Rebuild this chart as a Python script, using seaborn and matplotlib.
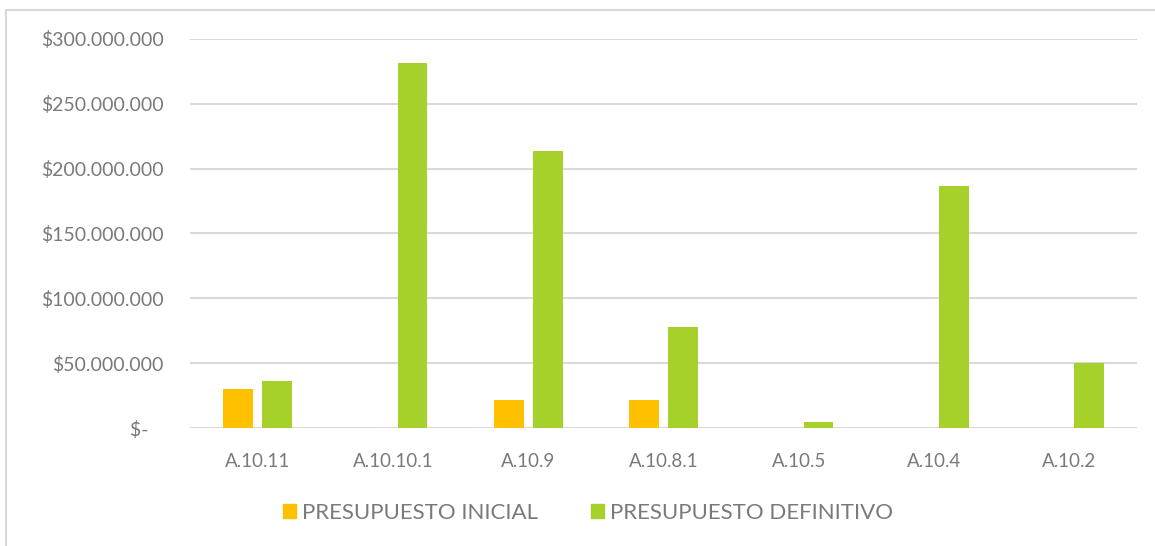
import pandas as pd
import seaborn as sns
import matplotlib.pyplot as plt
from matplotlib.patches import Rectangle
from matplotlib.ticker import FuncFormatter

# Data
categorias = ['A.10.11', 'A.10.10.1', 'A.10.9', 'A.10.8.1', 'A.10.5', 'A.10.4', 'A.10.2']
presupuesto_inicial = [30000000, 0, 21500000, 21500000, 0, 0, 0]
presupuesto_definitivo = [36500000, 281500000, 213500000, 78000000, 4500000, 186500000, 49800000]
series = ['PRESUPUESTO INICIAL', 'PRESUPUESTO DEFINITIVO']
colores = ['#FFC000', '#A5D12A']

df = pd.DataFrame({
    'categoria': categorias * 2,
    'serie': [series[0]] * len(categorias) + [series[1]] * len(categorias),
    'valor': presupuesto_inicial + presupuesto_definitivo,
})

sns.set_theme(style='white')
plt.rcParams['font.family'] = ['Lato', 'DejaVu Sans']
texto = '#7a7a7a'

fig = plt.figure(figsize=(11.55, 5.46), dpi=100)
ax = fig.add_axes([0.1645, 0.2161, 0.82, 0.7125])

sns.barplot(data=df, x='categoria', y='valor', hue='serie', hue_order=series,
            palette=colores, width=0.58, gap=0.24, saturation=1,
            edgecolor='none', ax=ax, legend=False)

ax.set_ylim(0, 300000000)
ax.set_yticks(range(0, 300000001, 50000000))

def fmt(v, pos):
    if v == 0:
        return '$-   '
    return '$' + f'{int(v):,}'.replace(',', '.')

ax.yaxis.set_major_formatter(FuncFormatter(fmt))
ax.grid(axis='y', color='#d9d9d9', linewidth=1.5)
ax.set_axisbelow(True)
for s in ax.spines.values():
    s.set_visible(False)
ax.tick_params(axis='both', length=0, colors=texto)
ax.tick_params(axis='y', pad=19, labelsize=14)
ax.tick_params(axis='x', pad=18, labelsize=13.5)
ax.set_xlabel('')
ax.set_ylabel('')

handles = [Rectangle((0, 0), 1, 1, color=c) for c in colores]
fig.legend(handles, series, loc='center', bbox_to_anchor=(0.509, 0.06), ncol=2,
           frameon=False, fontsize=16, labelcolor=texto, handlelength=0.6,
           handleheight=0.6, handletextpad=0.25, columnspacing=2.4)

# light outer border of the chart area
fig.patches.append(Rectangle((6 / 1155, -0.01), 1.02, 1 - 10 / 546 + 0.01,
                             transform=fig.transFigure, fill=False,
                             edgecolor='#d9d9d9', linewidth=1.5))

fig.savefig('out.png', dpi=100)
